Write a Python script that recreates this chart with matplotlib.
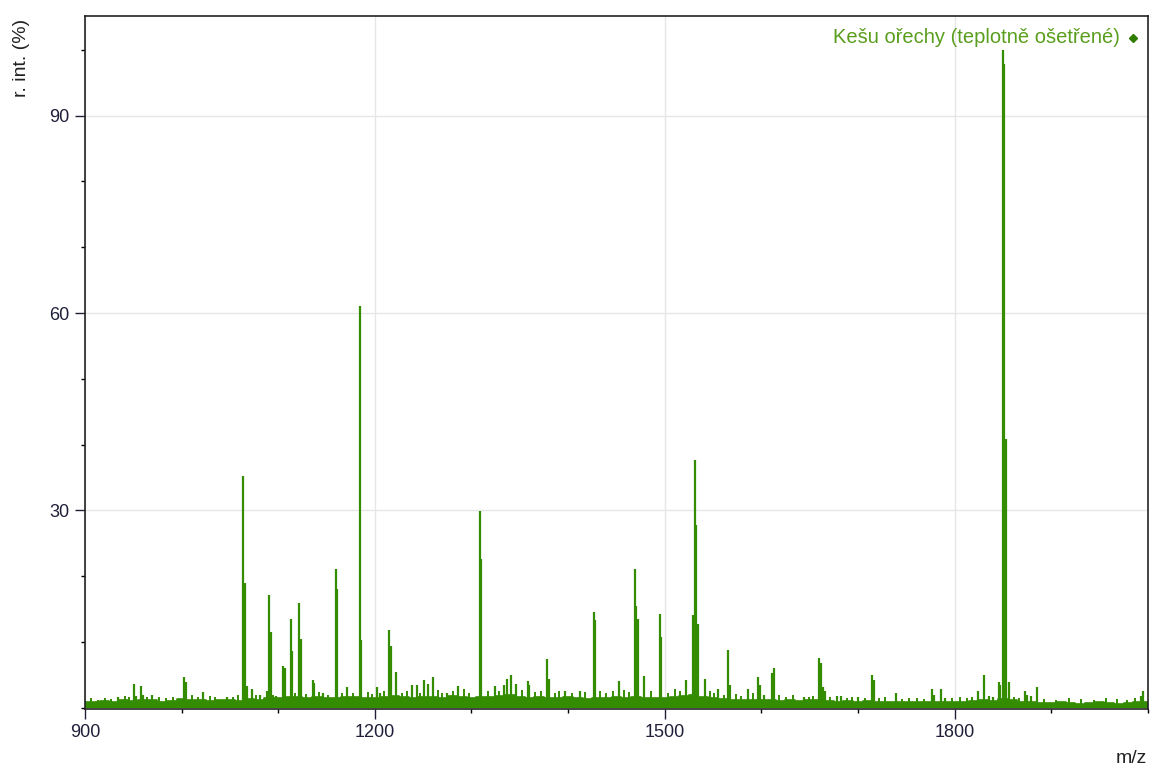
import numpy as np
import matplotlib
matplotlib.use("Agg")
import matplotlib.pyplot as plt
from matplotlib.ticker import MultipleLocator

plt.rcParams['font.family'] = ['Liberation Sans', 'DejaVu Sans']

# baseline intensity read every 10 m/z (900..2000)
base_mz = list(range(900, 2001, 10))
base_int = [
    0.9, 0.8, 1.0, 0.9, 1.1, 1.0, 1.2, 1.1, 0.9, 1.0,   # 900
    1.3, 1.2, 1.1, 1.0, 1.2, 1.1, 1.0, 1.3, 1.2, 1.4,   # 1000
    1.5, 1.6, 1.7, 1.5, 1.6, 1.4, 1.5, 1.7, 1.6, 1.4,   # 1100
    1.5, 1.7, 1.8, 1.6, 1.5, 1.7, 1.6, 1.5, 1.8, 1.6,   # 1200
    1.5, 1.6, 1.7, 1.8, 1.9, 1.7, 1.5, 1.6, 1.4, 1.5,   # 1300
    1.6, 1.4, 1.3, 1.5, 1.4, 1.6, 1.5, 1.7, 1.5, 1.4,   # 1400
    1.5, 1.6, 1.8, 1.9, 1.7, 1.5, 1.3, 1.2, 1.1, 1.2,   # 1500
    1.1, 1.2, 1.0, 1.1, 1.0, 1.2, 1.1, 1.0, 0.9, 1.0,   # 1600
    0.9, 1.0, 0.8, 0.9, 0.8, 0.9, 0.8, 0.8, 0.9, 0.8,   # 1700
    0.9, 0.8, 1.0, 1.1, 1.0, 1.3, 1.2, 0.9, 0.8, 0.7,   # 1800
    0.7, 0.8, 0.7, 0.6, 0.7, 0.8, 0.7, 0.6, 0.7, 0.8,   # 1900
    0.9]

# small noise spikes on top of the baseline
noise_mz = [
    906, 913, 921, 927, 941, 946, 964, 977, 984, 991, 1011, 1017, 1029,
    1035, 1053, 1058, 1077, 1095, 1117, 1129, 1142, 1152, 1166, 1177, 1193,
    1197, 1209, 1228, 1233, 1247, 1265, 1269, 1281, 1292, 1297, 1317, 1328,
    1352, 1366, 1372, 1386, 1391, 1404, 1418, 1433, 1439, 1446, 1458, 1463,
    1486, 1503, 1511, 1516, 1547, 1551, 1561, 1574, 1579, 1591, 1618, 1626,
    1633, 1649, 1654, 1671, 1689, 1694, 1707, 1722, 1728, 1746, 1753, 1761,
    1768, 1797, 1806, 1813, 1818, 1862, 1867, 1893, 1905, 1918, 1931, 1944,
    1957, 1968, 1979, 1987]
noise_int = [
    1.4, 1.2, 1.5, 1.3, 1.8, 1.6, 1.7, 1.6, 1.5, 1.7, 1.9, 1.6, 1.8,
    1.7, 1.6, 1.9, 2.0, 1.9, 2.2, 2.1, 2.4, 2.0, 2.3, 2.2, 2.4,
    2.1, 2.5, 2.2, 2.6, 2.3, 2.7, 2.3, 2.5, 2.8, 2.2, 2.5, 2.6,
    2.7, 2.4, 2.6, 2.3, 2.5, 2.2, 2.4, 2.6, 2.3, 2.5, 2.7, 2.4,
    2.6, 2.3, 2.8, 2.5, 2.6, 2.2, 2.0, 2.1, 1.8, 2.2, 2.0, 1.7,
    1.9, 1.6, 1.8, 1.7, 1.5, 1.6, 1.4, 1.5, 1.6, 1.3, 1.4, 1.5,
    1.3, 1.4, 1.6, 1.5, 1.7, 1.6, 1.4, 1.3, 1.2, 1.4, 1.3, 1.2,
    1.4, 1.3, 1.2, 1.4]

# peaks (m/z, relative intensity %)
peak_mz = [
    934.5, 951, 953, 957.6, 959.5, 969, 1002.8, 1004.5, 1022.4, 1046.5,
    1063.8, 1065.3, 1067.2, 1072.4, 1081, 1087.9, 1090.4, 1092, 1098, 1105, 1107,
    1112.8, 1114.5, 1121, 1124, 1136.2, 1137.5, 1146.5, 1159.7, 1161.2, 1171.4,
    1184.5, 1186, 1202.4, 1205, 1214.8, 1216.5, 1222, 1238.9, 1243.7, 1250.7,
    1255, 1260.3, 1275, 1286.2, 1308.6, 1310, 1324, 1333.5, 1336.9, 1341.4,
    1346.5, 1358.6, 1360, 1378, 1380, 1397, 1412, 1426.6, 1428.3, 1452.8,
    1469, 1470.5, 1472, 1478.6, 1494.8, 1496.5, 1522, 1529.5, 1531, 1532.7,
    1534.5, 1542, 1555, 1565.8, 1568, 1586.6, 1596.6, 1598.5, 1603, 1611,
    1612.8, 1643.8, 1659.6, 1661.5, 1664, 1666, 1678, 1682, 1700, 1714.7,
    1716.5, 1739.7, 1776.6, 1779, 1786, 1790, 1824, 1830.3, 1836, 1840,
    1845.8, 1847.5, 1850.6, 1851.6, 1852.8, 1856, 1873, 1875, 1879.6, 1885.5,
    1994.8, 1993]
peak_int = [
    1.7, 3.6, 1.8, 3.3, 2.0, 1.9, 4.6, 3.9, 2.4, 1.7,
    35.2, 19.0, 3.3, 2.8, 2.0, 2.6, 17.1, 11.5, 1.8, 6.4, 6.0,
    13.5, 8.6, 15.9, 10.4, 4.2, 3.8, 2.3, 21.1, 18.0, 3.1,
    61.0, 10.3, 3.1, 2.3, 11.8, 9.4, 5.4, 3.5, 3.5, 4.2,
    3.6, 4.7, 2.3, 3.3, 29.9, 22.6, 3.3, 3.5, 4.4, 4.9,
    3.6, 4.1, 3.5, 7.4, 4.3, 2.5, 2.5, 14.5, 13.3, 4.1,
    21.1, 15.5, 13.5, 4.8, 14.2, 10.7, 4.2, 14.1, 37.7, 27.8,
    12.7, 4.4, 2.8, 8.8, 3.5, 2.8, 4.7, 3.4, 2.0, 5.3,
    6.1, 1.7, 7.6, 6.8, 3.1, 2.6, 1.8, 1.8, 1.6, 4.9,
    4.2, 2.3, 2.8, 2.0, 2.8, 1.5, 2.6, 4.9, 1.8, 1.7,
    3.9, 3.5, 100.0, 97.9, 40.8, 3.9, 2.6, 2.0, 1.8, 3.1,
    2.6, 1.8]

green = '#348c00'

fig = plt.figure(figsize=(11.52, 7.69), dpi=100)
ax = fig.add_axes([0.0738, 0.078, 0.9225, 0.9016])

ax.fill_between(base_mz, base_int, 0, step='mid', color=green, lw=0)
ax.step(base_mz, base_int, where='mid', color=green, lw=1.2)
ax.vlines(noise_mz, 0, noise_int, color=green, lw=1.4)
ax.vlines(peak_mz, 0, peak_int, color=green, lw=1.6)

ax.set_xlim(900, 2000)
ax.set_ylim(-0.2, 105.2)
ax.xaxis.set_major_locator(MultipleLocator(300))
ax.xaxis.set_minor_locator(MultipleLocator(100))
ax.set_yticks([30, 60, 90])
ax.yaxis.set_minor_locator(MultipleLocator(10))
ax.grid(True, which='major', color='#e6e6e6', lw=1)
ax.set_axisbelow(True)

ax.tick_params(which='major', length=7, width=1, labelsize=13, pad=4,
               colors='#1f1f3a')
ax.tick_params(which='minor', length=3, width=1)
for s in ax.spines.values():
    s.set_color('#222222')
    s.set_linewidth(1.2)

fig.text(0.019, 0.975, 'r. int. (%)', rotation=90, ha='center', va='top',
         fontsize=14, color='#222222')
fig.text(0.996, 0.003, 'm/z', ha='right', va='bottom', fontsize=14,
         color='#222222')

ax.text(0.974, 0.968, 'Kešu ořechy (teplotně ošetřené)', transform=ax.transAxes,
        ha='right', va='center', fontsize=14.5, color='#5a9e1e')
ax.plot([0.986], [0.968], marker='D', ms=4.5, color='#2e7d00',
        transform=ax.transAxes, clip_on=False)

fig.savefig('out.png', dpi=100)
